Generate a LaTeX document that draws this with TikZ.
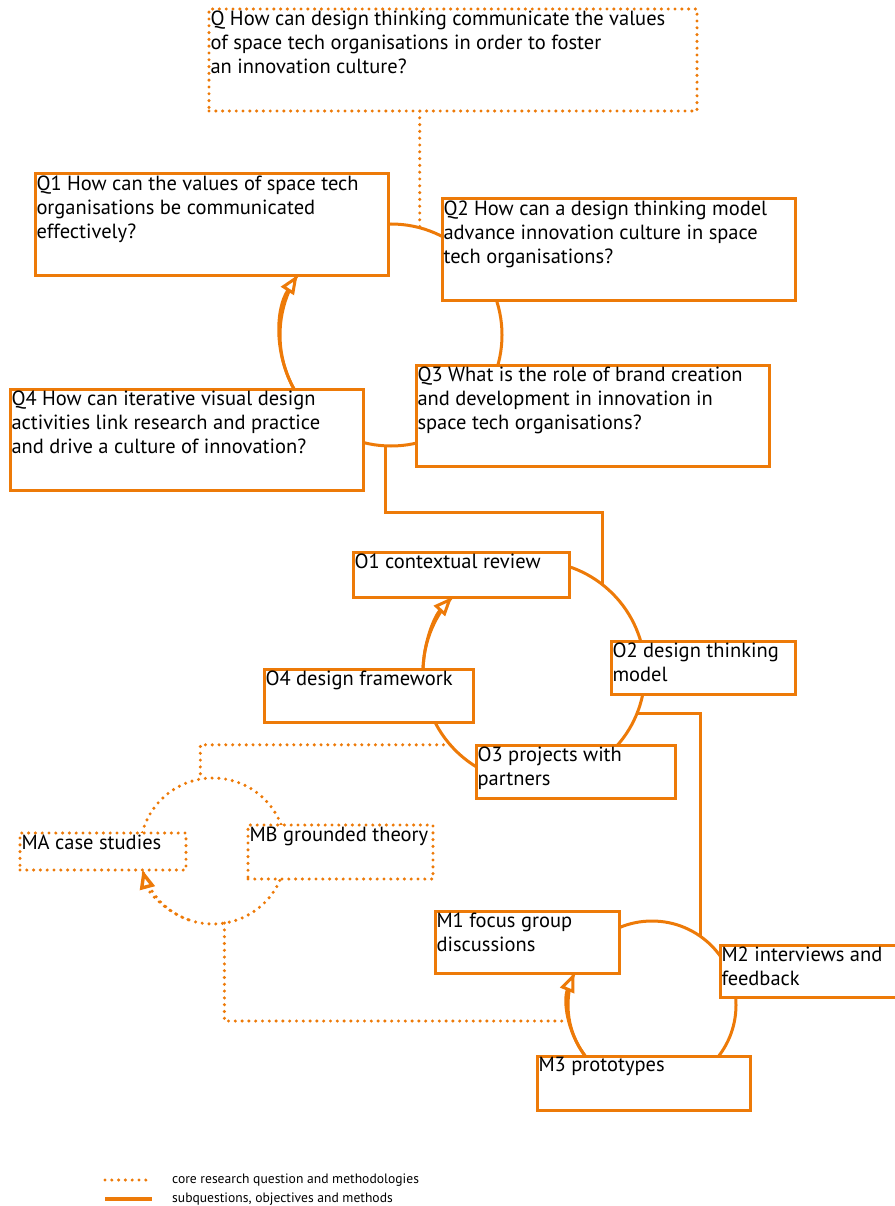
\documentclass[tikz,border=0pt]{standalone}
\usepackage{fontspec}
\setmainfont{PT Sans}
\usepackage{tikz}
\usetikzlibrary{arrows.meta}
\pgfdeclarelayer{background}
\pgfsetlayers{background,main}
\definecolor{esaorange}{RGB}{237,122,8}
\newcommand{\boxtext}[3]{\parbox[t][#2][t]{#1}{\raggedright #3}}

\begin{document}
\begin{tikzpicture}[x=1pt, y=1pt,
    sub/.style={draw=esaorange, line width=3pt, fill=white, anchor=north west, inner sep=1.5pt, outer sep=0pt, font=\fontsize{20.5}{24}\selectfont},
    core/.style={sub, dash pattern=on 0pt off 6.8pt, line cap=round, line width=3.4pt},
    ring/.style={circle, draw=esaorange, line width=3pt, inner sep=0pt, outer sep=0pt, minimum size=#1},
    link/.style={draw=esaorange, line width=3pt},
    corelink/.style={link, dash pattern=on 0pt off 6.8pt, line cap=round, line width=3.4pt},
    cyc/.style={-{Triangle[length=19pt, width=15pt, fill=white, line cap=butt]}}
  ]

    \useasboundingbox (0,0) rectangle (894,-1206);

    % questions
    \node[core] (Q) at (209,-9) {\boxtext{485pt}{99pt}{Q How can design thinking communicate the values\\of space tech organisations in order to foster\\an innovation culture?}};
    \node[sub] (Q1) at (35,-174) {\boxtext{350pt}{98pt}{Q1 How can the values of space tech\\organisations be communicated\\effectively?}};
    \node[sub] (Q2) at (442,-199) {\boxtext{350pt}{98pt}{Q2 How can a design thinking model\\advance innovation culture in space\\tech organisations?}};
    \node[sub] (Q3) at (416,-365) {\boxtext{350pt}{98pt}{Q3 What is the role of brand creation\\and development in innovation in\\space tech organisations?}};
    \node[sub] (Q4) at (10,-389) {\boxtext{350pt}{98pt}{Q4 How can iterative visual design\\activities link research and practice\\and drive a culture of innovation?}};

    % objectives
    \node[sub] (O1) at (353,-552) {\boxtext{213pt}{42pt}{O1 contextual review}};
    \node[sub] (O2) at (611,-641) {\boxtext{181pt}{50pt}{O2 design thinking\\model}};
    \node[sub] (O3) at (476,-745) {\boxtext{196pt}{50pt}{O3 projects with\\partners}};
    \node[sub] (O4) at (264,-669) {\boxtext{206pt}{50pt}{O4 design framework}};

    % methodologies and methods
    \node[core] (MA) at (20,-833) {\boxtext{163pt}{34pt}{MA case studies}};
    \node[core] (MB) at (248,-825) {\boxtext{182pt}{51pt}{MB grounded theory}};
    \node[sub] (M1) at (435,-911) {\boxtext{181pt}{59pt}{M1 focus group\\discussions}};
    \node[sub] (M2) at (720,-945) {\boxtext{180pt}{49pt}{M2 interviews and\\feedback}};
    \node[sub] (M3) at (537,-1056) {\boxtext{210pt}{51pt}{M3 prototypes}};

    \begin{pgfonlayer}{background}
        \node[ring=222] (qring) at (391,-335) {};
        \node[ring=222] (oring) at (534,-672) {};
        \node[ring=168] (mring) at (652,-1005) {};
        \node[ring=146, dash pattern=on 0pt off 6.8pt, line cap=round, line width=3.4pt] (cring) at (213,-851) {};

        \draw[link, cyc] (qring.209) arc[start angle=209, end angle=147.3, radius=111];
        \draw[link, cyc] (oring.178) arc[start angle=178, end angle=137.5, radius=111];
        \draw[link, cyc] (mring.217) arc[start angle=217, end angle=157.6, radius=84];
        \draw[corelink, cyc] (cring.250) arc[start angle=250, end angle=195, radius=73];

        \draw[corelink] (Q.south -| qring.75) -- (qring.75);
        \draw[link] (qring.267) -- ++(0,-67) -| (oring.52);
        \draw[link] (oring.338) -| (mring.55);
        \draw[corelink] (oring.221) -| (cring.100);
        \draw[corelink] (cring.279) |- (mring.191);
    \end{pgfonlayer}

    % legend
    \node[anchor=west, inner sep=0pt, font=\fontsize{13.6}{16}\selectfont] (legcore) at (172,-1180) {core research question and methodologies};
    \node[anchor=west, inner sep=0pt, font=\fontsize{13.6}{16}\selectfont] (legsub) at (172,-1199) {subquestions, objectives and methods};
    \draw[corelink] (legcore.west) ++(-67,0) -- ++(47,0);
    \draw[link, line width=4pt] (legsub.west) ++(-67,0) -- ++(47,0);

\end{tikzpicture}
\end{document}
